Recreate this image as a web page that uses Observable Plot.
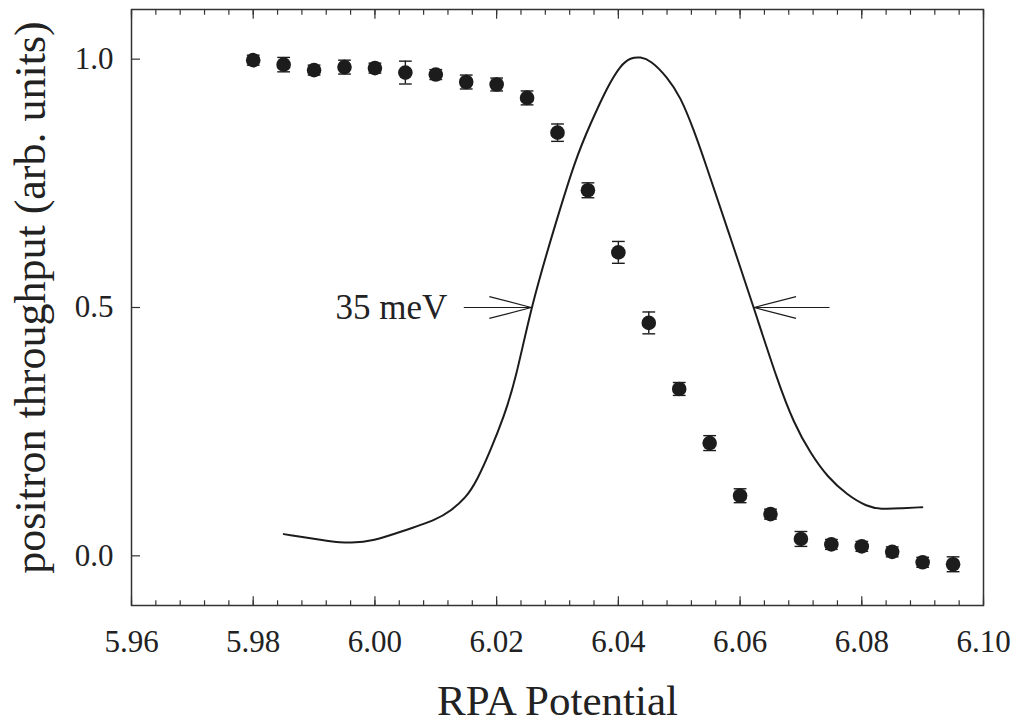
<!DOCTYPE html>
<html>
<head>
<meta charset="utf-8">
<script src="https://cdn.jsdelivr.net/npm/d3@7"></script>
<script src="https://cdn.jsdelivr.net/npm/@observablehq/plot@0.6"></script>
<style>
  html, body { margin: 0; padding: 0; background: #fff; }
  #chart { width: 1016px; height: 727px; }
</style>
</head>
<body>
<div id="chart"></div>
<script>
// ---- data ----
const rpaPotential = [5.980, 5.985, 5.990, 5.995, 6.000, 6.005, 6.010, 6.015, 6.020, 6.025, 6.030, 6.035,
                      6.040, 6.045, 6.050, 6.055, 6.060, 6.065, 6.070, 6.075, 6.080, 6.085, 6.090, 6.095];
const throughput  = [0.998, 0.989, 0.978, 0.984, 0.982, 0.973, 0.969, 0.954, 0.949, 0.922, 0.852, 0.736,
                      0.611, 0.469, 0.336, 0.227, 0.121, 0.084, 0.034, 0.023, 0.019, 0.008, -0.013, -0.017];
const errors      = [0.010, 0.0145, 0.010, 0.014, 0.010, 0.023, 0.010, 0.014, 0.013, 0.014, 0.0175, 0.015,
                      0.022, 0.022, 0.013, 0.015, 0.014, 0.010, 0.015, 0.010, 0.010, 0.010, 0.010, 0.015];

// energy distribution (derivative) curve
const curveX = [5.98503, 5.99325, 5.99599, 5.99982, 6.00421, 6.01024, 6.01242, 6.01489, 6.01681, 6.01900,
                6.02118, 6.02311, 6.02574, 6.02935, 6.03297, 6.03543, 6.03817, 6.04036, 6.04200, 6.04365,
                6.04529, 6.04804, 6.05022, 6.05241, 6.05405, 6.05816, 6.06227, 6.06611, 6.06884, 6.07158,
                6.07433, 6.07762, 6.08090, 6.08309, 6.08638, 6.08994];
const curveY = [0.0437, 0.0276, 0.0256, 0.0302, 0.0483, 0.0733, 0.0906, 0.1156, 0.1524, 0.2128,
                0.2798, 0.3537, 0.5050, 0.6560, 0.8000, 0.8705, 0.9440, 0.9880, 1.0030, 1.0046,
                0.9980, 0.9640, 0.9240, 0.8570, 0.8000, 0.6500, 0.4990, 0.3537, 0.2666, 0.2062,
                0.1590, 0.1222, 0.0987, 0.0940, 0.0954, 0.0980];

// axes
const xMajorTicks = [5.96, 5.98, 6.00, 6.02, 6.04, 6.06, 6.08, 6.10];
const xMinorTicks = d3.range(0, 36).map(i => +(5.96 + i * 0.004).toFixed(3));
const yTicks = [0.0, 0.5, 1.0];
const xTitle = "RPA Potential";
const yTitle = "positron throughput (arb. units)";

// annotation (FWHM arrows)
const annText = ["35 meV"];
const annTextX = [6.0119];
const annLevel = 0.5;
const arrowTips  = [6.0257, 6.0623];
const arrowTails = [6.0146, 6.0747];
const headDX = 0.0069;   // arrow head length in x units
const headDY = 0.022;    // arrow head half-spread in y units

// ---- build tables ----
const points = rpaPotential.map((x, i) => ({x, y: throughput[i], e: errors[i]}));
const curve = curveX.map((x, i) => ({x, y: curveY[i]}));
const capHalf = 0.00105;
const caps = points.flatMap(d => [
  {x1: d.x - capHalf, x2: d.x + capHalf, y: d.y + d.e},
  {x1: d.x - capHalf, x2: d.x + capHalf, y: d.y - d.e}
]);
const shafts = arrowTips.map((t, i) => ({x1: arrowTails[i], x2: t, y: annLevel}));
const heads = arrowTips.flatMap((t, i) => {
  const dir = Math.sign(arrowTails[i] - t);
  return [
    {x1: t, y1: annLevel, x2: t + dir * headDX, y2: annLevel + headDY},
    {x1: t, y1: annLevel, x2: t + dir * headDX, y2: annLevel - headDY}
  ];
});

const ink = "#1c1c1c";
const blank = () => "";

const chart = Plot.plot({
  width: 1016,
  height: 727,
  marginLeft: 131,
  marginRight: 33,
  marginTop: 9,
  marginBottom: 122,
  x: {domain: [5.96, 6.10]},
  y: {domain: [-0.1, 1.1]},
  style: {fontFamily: "'Liberation Serif', 'DejaVu Serif', serif", background: "#fff", color: "#222", overflow: "visible"},
  marks: [
    // ticks (inward)
    Plot.axisX({anchor: "bottom", ticks: xMinorTicks, tickSize: -4.7, tickFormat: blank, label: null, stroke: "#333", strokeWidth: 1.2}),
    Plot.axisX({anchor: "bottom", ticks: xMajorTicks, tickSize: -8.7, tickFormat: blank, label: null, stroke: "#333", strokeWidth: 1.2}),
    Plot.axisX({anchor: "top", ticks: xMinorTicks, tickSize: -4.7, tickFormat: blank, label: null, stroke: "#333", strokeWidth: 1.2}),
    Plot.axisX({anchor: "top", ticks: xMajorTicks, tickSize: -8.7, tickFormat: blank, label: null, stroke: "#333", strokeWidth: 1.2}),
    Plot.axisY({anchor: "left", ticks: yTicks, tickSize: -9, tickFormat: blank, label: null, stroke: "#333", strokeWidth: 1.2}),
    // tick labels
    Plot.axisX({anchor: "bottom", ticks: xMajorTicks, tickSize: 0, tickPadding: 24, tickFormat: d3.format(".2f"), label: null, fontSize: 31, fill: "#222"}),
    Plot.axisY({anchor: "left", ticks: yTicks, tickSize: 0, tickPadding: 18, tickFormat: d3.format(".1f"), label: null, fontSize: 31, fill: "#222"}),
    // axis titles
    Plot.text([xTitle], {text: d => d, frameAnchor: "bottom", lineAnchor: "middle", textAnchor: "middle", dy: 96, fontSize: 43, fill: "#222"}),
    Plot.text([yTitle], {text: d => d, frameAnchor: "left", lineAnchor: "middle", textAnchor: "middle", rotate: -90, dx: -101, dy: -10, fontSize: 44, fill: "#222"}),
    // frame
    Plot.frame({stroke: "#333", strokeWidth: 1.5}),
    // curve
    Plot.line(curve, {x: "x", y: "y", curve: "basis", stroke: ink, strokeWidth: 2}),
    // error bars
    Plot.ruleX(points, {x: "x", y1: d => d.y - d.e, y2: d => d.y + d.e, stroke: ink, strokeWidth: 1.4}),
    Plot.link(caps, {x1: "x1", x2: "x2", y1: "y", y2: "y", stroke: ink, strokeWidth: 1.4}),
    // points
    Plot.dot(points, {x: "x", y: "y", r: 7.3, fill: ink, stroke: "none"}),
    // annotation
    Plot.link(shafts, {x1: "x1", x2: "x2", y1: "y", y2: "y", stroke: ink, strokeWidth: 1.2}),
    Plot.link(heads, {x1: "x1", x2: "x2", y1: "y1", y2: "y2", stroke: ink, strokeWidth: 1.2}),
    Plot.text(annText, {text: d => d, x: annTextX, y: [annLevel], textAnchor: "end", fontSize: 35, fill: "#222"})
  ]
});
document.getElementById("chart").appendChild(chart);
</script>
</body>
</html>
